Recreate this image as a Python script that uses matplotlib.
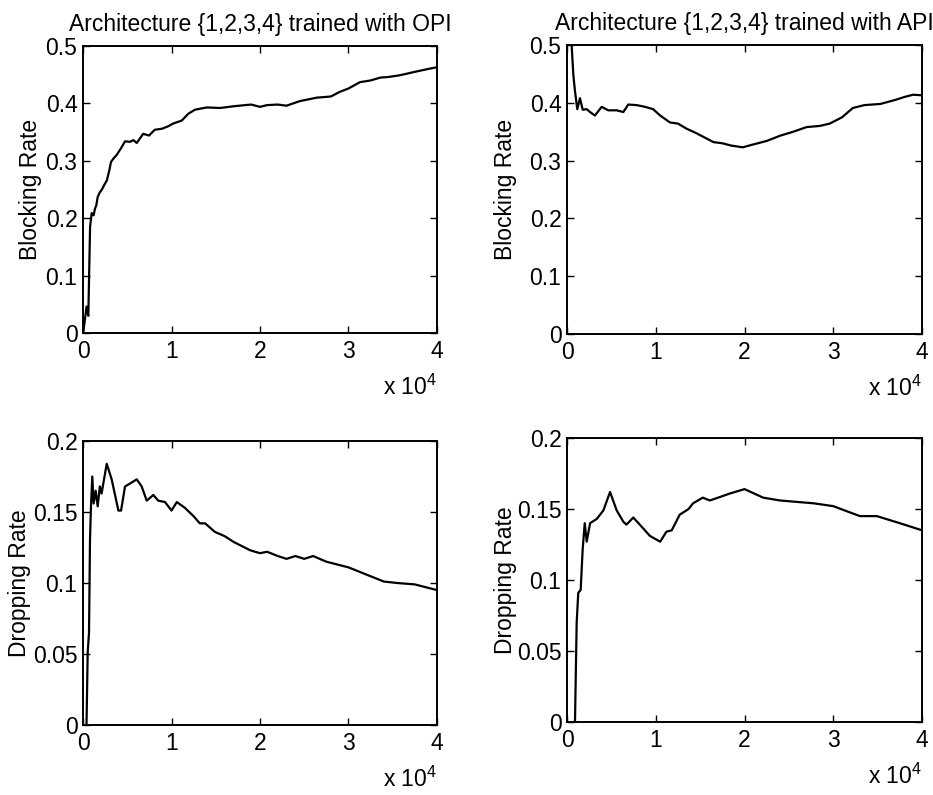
import matplotlib
matplotlib.use("Agg")
import matplotlib.pyplot as plt

plt.rcParams['font.family'] = ['Liberation Sans', 'DejaVu Sans']
plt.rcParams['mathtext.fontset'] = 'custom'
plt.rcParams['mathtext.rm'] = 'Liberation Sans'
plt.rcParams['mathtext.it'] = 'Liberation Sans'

titles = ["Architecture {1,2,3,4} trained with OPI",
          "Architecture {1,2,3,4} trained with API"]
ylabels_top = "Blocking Rate"
ylabels_bot = "Dropping Rate"
xticks = [0, 1, 2, 3, 4]
xticklabels = ["0", "1", "2", "3", "4"]
yticks_top = [0, 0.1, 0.2, 0.3, 0.4, 0.5]
yticklabels_top = ["0", "0.1", "0.2", "0.3", "0.4", "0.5"]
yticks_bot = [0, 0.05, 0.1, 0.15, 0.2]
yticklabels_bot = ["0", "0.05", "0.1", "0.15", "0.2"]

# Blocking rate, OPI (x in units of 1e4)
opi_block_x = [0.0, 0.004, 0.04, 0.06, 0.08, 0.098, 0.12, 0.136, 0.15, 0.166, 0.19, 0.21, 0.24,
               0.27, 0.3, 0.316, 0.35, 0.38, 0.43, 0.475, 0.53, 0.57, 0.607, 0.68, 0.746, 0.81,
               0.896, 0.96, 1.02, 1.115, 1.19, 1.265, 1.4, 1.55, 1.7, 1.9, 2.0, 2.08, 2.2, 2.3,
               2.45, 2.64, 2.8, 2.9, 3.0, 3.13, 3.25, 3.36, 3.45, 3.58, 3.75, 3.9, 4.0]
opi_block_y = [0.0, 0.002, 0.046, 0.03, 0.185, 0.209, 0.205, 0.217, 0.222, 0.237, 0.245, 0.249, 0.258,
               0.266, 0.285, 0.298, 0.305, 0.31, 0.322, 0.334, 0.333, 0.336, 0.331, 0.347, 0.344, 0.354,
               0.356, 0.36, 0.365, 0.370, 0.382, 0.389, 0.393, 0.392, 0.395, 0.398, 0.394, 0.397, 0.398, 0.396,
               0.404, 0.41, 0.412, 0.42, 0.426, 0.437, 0.44, 0.445, 0.446, 0.449, 0.455, 0.46, 0.463]

# Blocking rate, API
api_block_x = [0.053, 0.071, 0.09, 0.116, 0.146, 0.177, 0.222, 0.26, 0.315, 0.39, 0.465, 0.56,
               0.635, 0.69, 0.785, 0.88, 0.97, 1.05, 1.16, 1.25, 1.35, 1.45, 1.55, 1.65, 1.75, 1.85,
               1.98, 2.1, 2.25, 2.4, 2.55, 2.7, 2.85, 2.96, 3.1, 3.22, 3.35, 3.53, 3.7, 3.8, 3.9, 4.0]
api_block_y = [0.498, 0.449, 0.42, 0.389, 0.408, 0.388, 0.389, 0.384, 0.378, 0.393, 0.387, 0.387,
               0.384, 0.397, 0.396, 0.393, 0.389, 0.378, 0.366, 0.364, 0.355, 0.348, 0.340, 0.332, 0.330, 0.326,
               0.323, 0.328, 0.334, 0.343, 0.350, 0.358, 0.360, 0.364, 0.375, 0.391, 0.396, 0.398, 0.405, 0.41, 0.414, 0.413]

# Dropping rate, OPI
opi_drop_x = [0.04, 0.053, 0.068, 0.079, 0.09, 0.105, 0.12, 0.143, 0.166, 0.19, 0.21, 0.268, 0.324,
              0.4, 0.43, 0.475, 0.53, 0.607, 0.663, 0.72, 0.795, 0.85, 0.927, 1.0, 1.06, 1.15, 1.25,
              1.32, 1.38, 1.49, 1.6, 1.7, 1.89, 2.0, 2.08, 2.2, 2.3, 2.4, 2.5, 2.6, 2.75, 3.0, 3.2,
              3.4, 3.55, 3.75, 4.0]
opi_drop_y = [0.001, 0.051, 0.065, 0.130, 0.154, 0.175, 0.156, 0.165, 0.154, 0.168, 0.163, 0.184, 0.173,
              0.151, 0.151, 0.168, 0.170, 0.173, 0.168, 0.158, 0.162, 0.158, 0.157, 0.151, 0.157, 0.153, 0.147,
              0.142, 0.142, 0.136, 0.133, 0.129, 0.123, 0.121, 0.122, 0.119, 0.117, 0.119, 0.117, 0.119, 0.115,
              0.111, 0.106, 0.101, 0.100, 0.099, 0.095]

# Dropping rate, API
api_drop_x = [0.09, 0.109, 0.127, 0.154, 0.177, 0.2, 0.222, 0.26, 0.335, 0.41, 0.485, 0.56, 0.635,
              0.67, 0.747, 0.82, 0.935, 1.05, 1.12, 1.18, 1.27, 1.37, 1.42, 1.53, 1.61, 1.84, 2.0,
              2.21, 2.4, 2.78, 3.0, 3.3, 3.49, 3.75, 4.0]
api_drop_y = [0.0, 0.07, 0.091, 0.093, 0.122, 0.140, 0.127, 0.140, 0.143, 0.149, 0.162, 0.149, 0.141,
              0.139, 0.144, 0.139, 0.131, 0.127, 0.134, 0.135, 0.146, 0.150, 0.154, 0.158, 0.156, 0.161, 0.164,
              0.158, 0.156, 0.154, 0.152, 0.145, 0.145, 0.140, 0.135]

W, H = 933, 795
fig = plt.figure(figsize=(W / 100, H / 100), dpi=100)

def make_ax(left, top, right, bottom):
    return fig.add_axes([left / W, 1 - bottom / H, (right - left) / W, (bottom - top) / H])

axes = [
    (make_ax(83, 46, 437, 333), opi_block_x, opi_block_y, ylabels_top, yticks_top, yticklabels_top, (0, 0.5), titles[0], -0.115),
    (make_ax(567, 45, 922, 334), api_block_x, api_block_y, ylabels_top, yticks_top, yticklabels_top, (0, 0.5), titles[1], -0.14),
    (make_ax(83, 441, 437, 725), opi_drop_x, opi_drop_y, ylabels_bot, yticks_bot, yticklabels_bot, (0, 0.2), None, -0.147),
    (make_ax(567, 438, 922, 722), api_drop_x, api_drop_y, ylabels_bot, yticks_bot, yticklabels_bot, (0, 0.2), None, -0.14),
]

fs = 16.5
for ax, xs, ys, ylab, yt, ytl, ylim, title, ylx in axes:
    ax.plot(xs, ys, color='black', lw=1.6)
    ax.set_xlim(0, 4)
    ax.set_ylim(*ylim)
    ax.set_xticks(xticks)
    ax.set_xticklabels(xticklabels, fontsize=fs)
    ax.set_yticks(yt)
    ax.set_yticklabels(ytl, fontsize=fs)
    ax.tick_params(direction='in', top=True, right=True, length=5, width=1)
    ax.tick_params(axis='x', pad=5)
    ax.tick_params(axis='y', pad=4)
    for s in ax.spines.values():
        s.set_linewidth(1.4)
    ax.set_ylabel(ylab, fontsize=fs)
    ax.yaxis.set_label_coords(ylx, 0.5)
    if title:
        ax.set_title(title, fontsize=fs, pad=11)
    ax.annotate(r'x 10$^{4}$', xy=(1, 0), xycoords='axes fraction',
                xytext=(0, -39), textcoords='offset points',
                ha='right', va='center', fontsize=fs)

fig.savefig("out.png", dpi=100)
